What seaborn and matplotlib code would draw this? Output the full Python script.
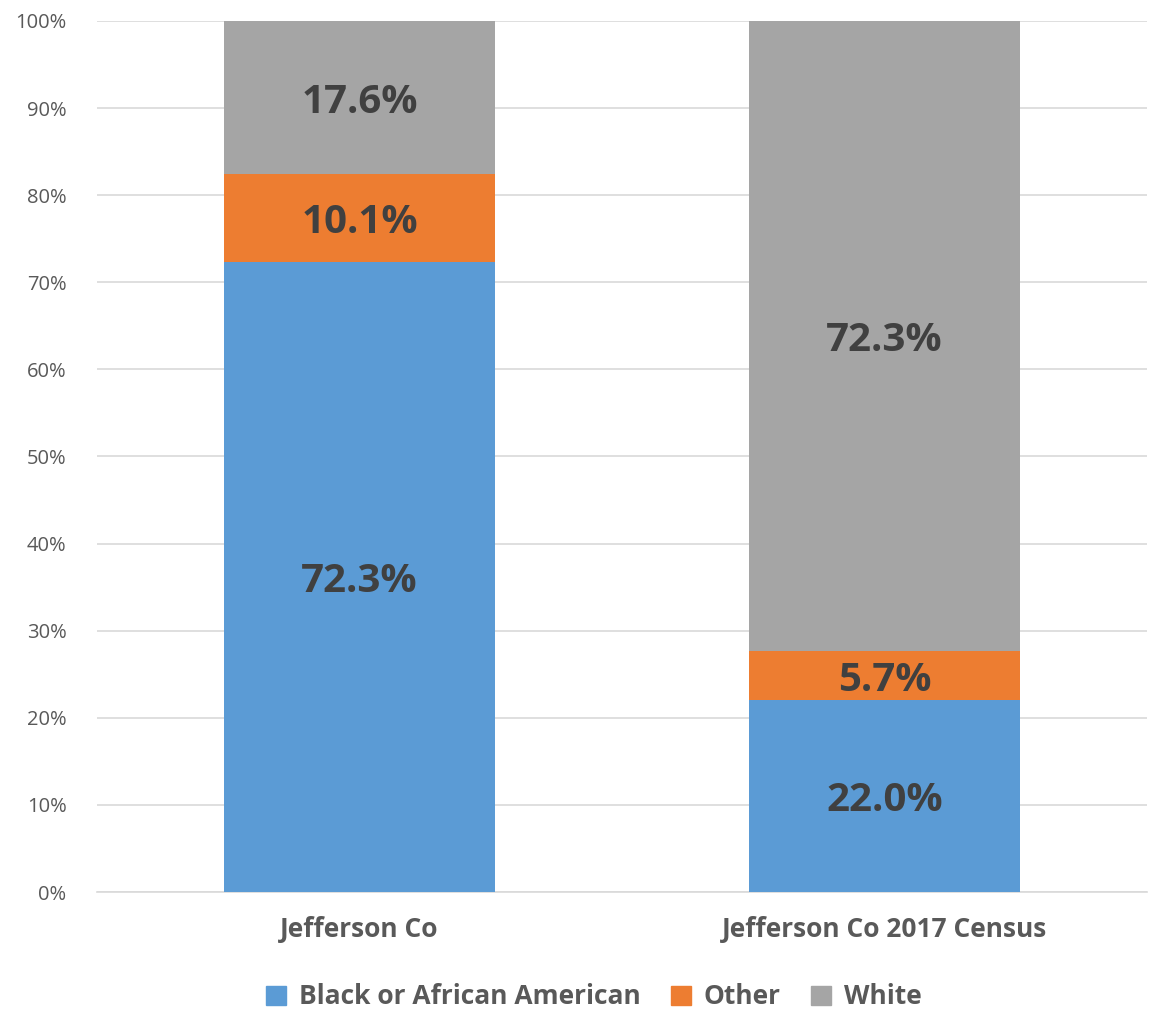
import matplotlib
matplotlib.use("Agg")
import matplotlib.pyplot as plt
import seaborn as sns
import numpy as np
import pandas as pd
from matplotlib.patches import Patch

categories = ["Jefferson Co", "Jefferson Co 2017 Census"]
series_names = ["Black or African American", "Other", "White"]
black = [72.3, 22.0]
other = [10.1, 5.7]
white = [17.6, 72.3]
colors = ["#5B9BD5", "#ED7D31", "#A5A5A5"]
yticks = [0, 10, 20, 30, 40, 50, 60, 70, 80, 90, 100]

sns.set_theme(style="white")
plt.rcParams['font.family'] = ['Open Sans', 'DejaVu Sans']

fig = plt.figure(figsize=(11.53, 10.16), dpi=100)
ax = fig.add_axes([97/1153, 1-892/1016, (1147-97)/1153, (892-21)/1016])

values = [black, other, white]
bottoms = np.zeros(len(categories))
for name, vals, col in zip(series_names, values, colors):
    df = pd.DataFrame({"cat": categories, "val": vals})
    sns.barplot(data=df, x="cat", y="val", color=col, width=0.515,
                bottom=bottoms.copy(), ax=ax, saturation=1, zorder=3,
                linewidth=0, edgecolor="none")
    for i, v in enumerate(vals):
        ax.text(i, bottoms[i] + v/2, f"{v:.1f}%", ha="center", va="center_baseline",
                fontsize=29, fontweight="bold", color="#404040", zorder=4)
    bottoms += np.array(vals)

ax.set_xlim(-0.5, 1.5)
ax.set_ylim(0, 100)
ax.set_yticks(yticks)
ax.set_yticklabels([f"{t}%" for t in yticks], fontsize=14.5, color="#595959")
ax.yaxis.grid(True, color="#D9D9D9", linewidth=1.2, zorder=0)
ax.set_axisbelow(True)
for s in ["top", "right", "left"]:
    ax.spines[s].set_visible(False)
ax.spines["bottom"].set_color("#D9D9D9")
ax.spines["bottom"].set_linewidth(1.2)
ax.tick_params(axis="y", length=0, pad=22)
ax.tick_params(axis="x", length=0, pad=17)
ax.set_xticks(range(len(categories)))
ax.set_xticklabels(categories, fontsize=19, fontweight="bold", color="#595959")
ax.set_xlabel("")
ax.set_ylabel("")

handles = [Patch(facecolor=c, edgecolor=c) for c in colors]
leg = fig.legend(handles, series_names, loc="center", bbox_to_anchor=(0.515, 1-997/1016),
                 ncol=3, frameon=False, handlelength=0.75, handleheight=0.75,
                 columnspacing=1.15, handletextpad=0.5,
                 prop={"size": 19, "weight": "bold"})
for t in leg.get_texts():
    t.set_color("#595959")

fig.savefig("out.png", dpi=100)
